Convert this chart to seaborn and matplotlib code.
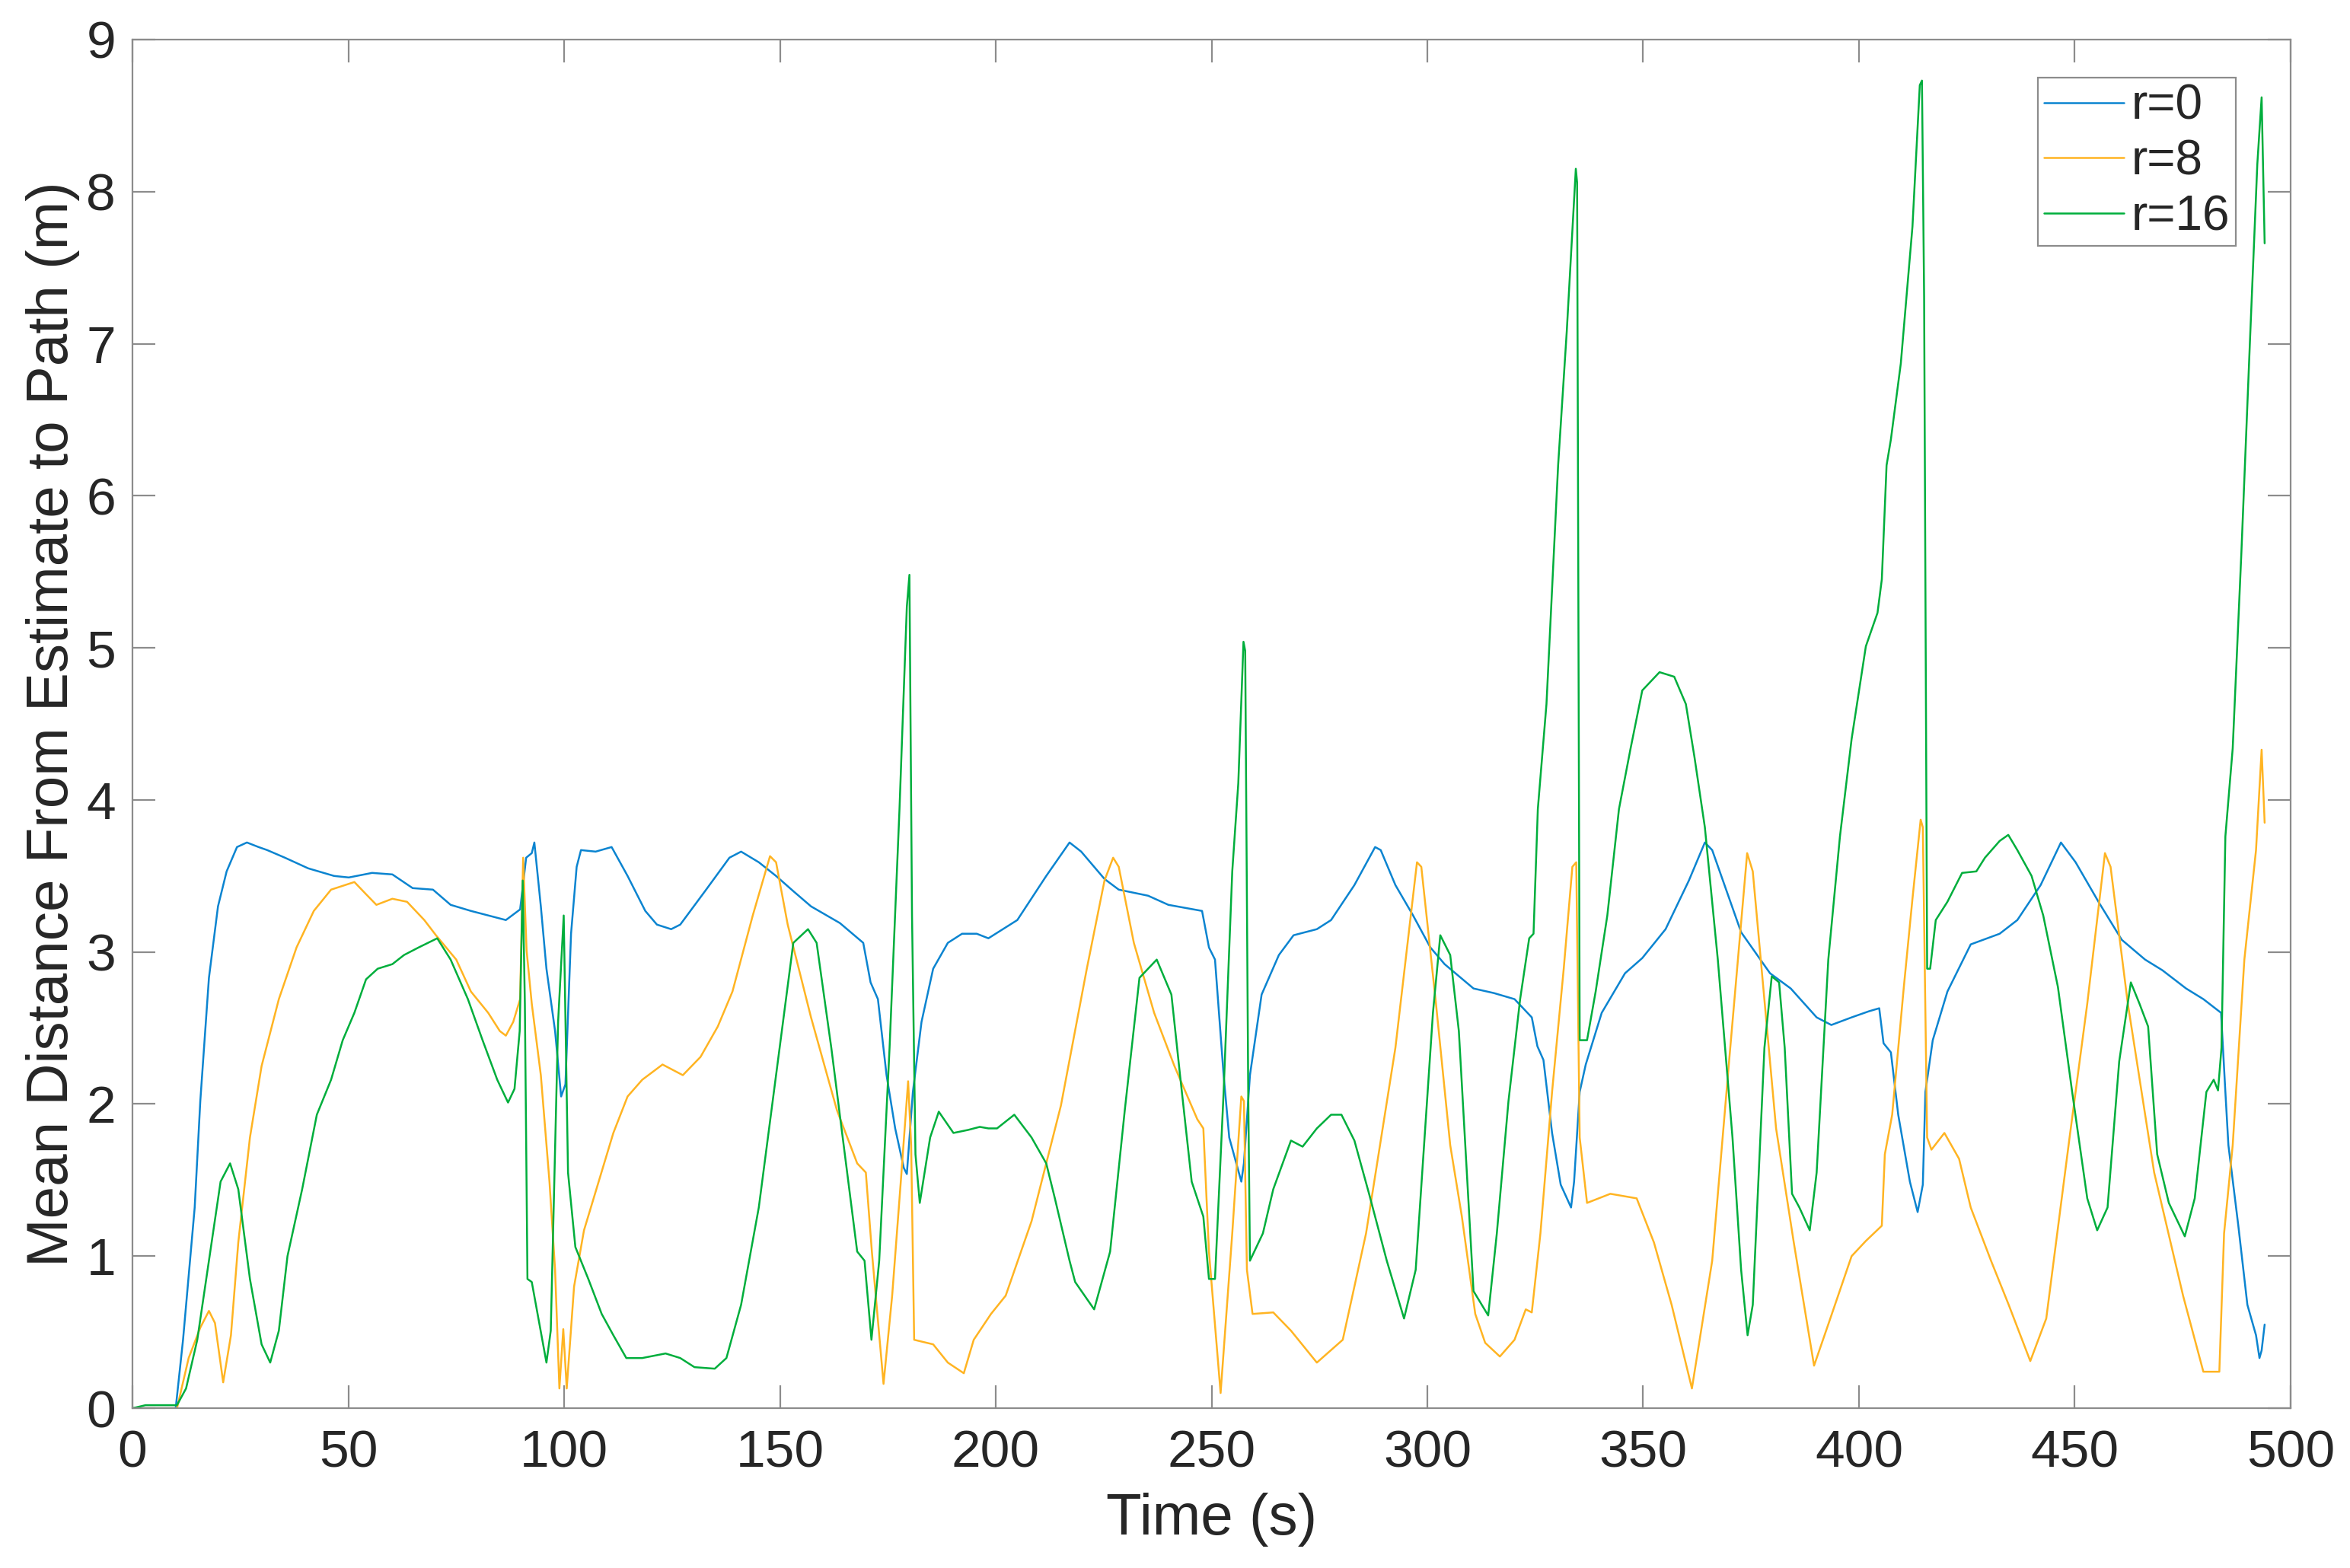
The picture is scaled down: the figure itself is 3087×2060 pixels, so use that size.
import matplotlib
matplotlib.use("Agg")
import matplotlib.pyplot as plt
import seaborn as sns

# --- values (time in s, distance in m) ---
r0_time = [
    0, 10.0, 11.7, 14.4, 15.7, 17.7, 19.8, 21.8, 24.2, 26.5,
    29.2, 31.2, 35.3, 40.7, 46.7, 50.1, 55.5, 60.2, 64.9, 69.6,
    73.7, 78.4, 83.8, 86.5, 89.8, 91.2, 92.5, 93.1, 94.6, 95.9,
    97.9, 99.3, 100.3, 101.6, 102.9, 103.9, 107.3, 111.0, 114.7, 118.8,
    121.5, 124.8, 126.9, 132.9, 138.3, 141.0, 145.1, 149.1, 153.1, 157.2,
    163.9, 169.3, 171.0, 172.7, 174.7, 176.7, 178.7, 179.4, 180.8, 182.8,
    185.5, 188.9, 192.2, 195.6, 198.3, 203.3, 205.0, 211.7, 217.1, 219.8,
    225.2, 228.5, 235.3, 240.0, 247.8, 249.4, 250.8, 252.8, 254.1, 256.9,
    257.5, 258.9, 261.6, 265.6, 269.0, 274.4, 277.7, 283.1, 287.9, 289.2,
    292.6, 296.7, 300.7, 304.0, 310.7, 315.4, 320.2, 324.2, 325.5, 326.9,
    328.9, 330.9, 333.3, 334.0, 335.3, 336.7, 340.4, 345.8, 349.8, 355.2,
    360.6, 364.3, 366.0, 372.7, 379.4, 384.2, 390.2, 393.6, 398.3, 402.3,
    404.7, 405.7, 407.4, 409.1, 411.8, 413.6, 414.8, 415.4, 417.1, 420.5,
    425.9, 432.6, 436.7, 442.1, 446.8, 450.2, 455.5, 460.9, 466.3, 470.3,
    475.8, 479.8, 483.9, 484.9, 485.6, 487.9, 490.0, 492.0, 492.8, 493.3,
    494.0,
]
r0_dist = [
    0, 0, 0.45, 1.32, 2.02, 2.83, 3.30, 3.53, 3.69, 3.72,
    3.69, 3.67, 3.62, 3.55, 3.50, 3.49, 3.52, 3.51, 3.42, 3.41,
    3.31, 3.27, 3.23, 3.21, 3.28, 3.62, 3.65, 3.72, 3.30, 2.89,
    2.48, 2.05, 2.13, 3.12, 3.56, 3.67, 3.66, 3.69, 3.50, 3.27,
    3.18, 3.15, 3.18, 3.41, 3.62, 3.66, 3.59, 3.50, 3.40, 3.30,
    3.19, 3.06, 2.80, 2.69, 2.19, 1.84, 1.58, 1.54, 2.08, 2.54,
    2.89, 3.06, 3.12, 3.12, 3.09, 3.18, 3.21, 3.50, 3.72, 3.66,
    3.48, 3.41, 3.37, 3.31, 3.27, 3.03, 2.95, 2.19, 1.78, 1.49,
    1.61, 2.19, 2.72, 2.98, 3.11, 3.15, 3.21, 3.44, 3.69, 3.67,
    3.44, 3.24, 3.03, 2.92, 2.76, 2.73, 2.69, 2.57, 2.38, 2.29,
    1.81, 1.47, 1.32, 1.49, 2.08, 2.26, 2.60, 2.86, 2.96, 3.15,
    3.47, 3.72, 3.67, 3.13, 2.86, 2.76, 2.57, 2.52, 2.57, 2.61,
    2.63, 2.40, 2.34, 1.93, 1.49, 1.29, 1.47, 2.08, 2.42, 2.74,
    3.05, 3.12, 3.21, 3.44, 3.72, 3.59, 3.33, 3.08, 2.95, 2.88,
    2.76, 2.69, 2.60, 2.08, 1.73, 1.20, 0.68, 0.48, 0.33, 0.38,
    0.55,
]

r8_time = [
    0, 10.3, 13.0, 15.7, 17.7, 19.1, 21.0, 22.8, 24.5, 27.2,
    29.9, 33.9, 38.0, 42.0, 46.0, 51.4, 54.1, 56.5, 60.2, 63.6,
    67.6, 70.3, 75.0, 78.4, 82.4, 85.1, 86.5, 88.2, 89.8, 90.5,
    91.3, 92.5, 94.6, 96.6, 97.9, 98.9, 99.8, 100.6, 102.3, 104.6,
    108.0, 111.4, 114.7, 118.1, 122.8, 127.5, 131.6, 135.6, 139.0, 143.7,
    147.7, 149.1, 151.8, 157.2, 163.2, 167.9, 169.9, 171.3, 174.0, 176.0,
    178.0, 179.7, 180.4, 181.1, 185.5, 188.9, 192.6, 194.9, 198.9, 202.3,
    208.3, 215.1, 221.1, 225.2, 227.2, 228.5, 232.0, 236.7, 241.4, 246.7,
    248.1, 249.4, 252.1, 254.8, 256.9, 257.5, 258.2, 259.5, 264.3, 268.4,
    274.4, 280.4, 285.8, 292.6, 297.6, 298.6, 302.0, 305.3, 308.0, 311.1,
    313.4, 316.8, 320.2, 322.8, 324.2, 326.2, 328.9, 331.6, 333.6, 334.5,
    335.3, 337.0, 342.4, 348.5, 352.5, 356.6, 361.3, 366.0, 370.0, 374.1,
    375.4, 380.8, 384.9, 389.6, 393.0, 398.3, 401.6, 405.3, 406.0, 407.7,
    410.4, 412.4, 414.3, 414.8, 415.8, 416.8, 419.8, 423.2, 425.9, 430.6,
    434.7, 439.7, 443.4, 448.8, 452.9, 457.0, 458.3, 462.3, 468.4, 475.1,
    479.8, 483.5, 484.6, 486.6, 489.3, 492.0, 493.3, 494.0,
]
r8_dist = [
    0, 0, 0.33, 0.53, 0.64, 0.56, 0.17, 0.48, 1.09, 1.78,
    2.25, 2.69, 3.03, 3.27, 3.41, 3.46, 3.38, 3.31, 3.35, 3.33,
    3.21, 3.11, 2.95, 2.74, 2.60, 2.48, 2.45, 2.54, 2.69, 3.62,
    3.01, 2.66, 2.19, 1.49, 0.91, 0.13, 0.52, 0.13, 0.80, 1.17,
    1.49, 1.81, 2.05, 2.16, 2.26, 2.19, 2.31, 2.51, 2.74, 3.24,
    3.63, 3.59, 3.18, 2.57, 1.96, 1.61, 1.55, 1.03, 0.16, 0.74,
    1.49, 2.15, 1.73, 0.45, 0.42, 0.30, 0.23, 0.45, 0.62, 0.74,
    1.23, 1.99, 2.89, 3.47, 3.62, 3.56, 3.06, 2.60, 2.25, 1.90,
    1.84, 1.03, 0.10, 1.15, 2.05, 2.02, 0.91, 0.62, 0.63, 0.51,
    0.30, 0.45, 1.15, 2.37, 3.59, 3.56, 2.66, 1.73, 1.26, 0.62,
    0.43, 0.34, 0.45, 0.65, 0.63, 1.15, 2.08, 2.89, 3.56, 3.59,
    1.78, 1.35, 1.41, 1.38, 1.09, 0.68, 0.13, 0.97, 2.31, 3.65,
    3.53, 1.84, 1.09, 0.28, 0.56, 1.00, 1.10, 1.20, 1.67, 1.93,
    2.77, 3.35, 3.87, 3.82, 1.78, 1.70, 1.81, 1.64, 1.32, 0.97,
    0.68, 0.31, 0.59, 1.78, 2.66, 3.65, 3.56, 2.66, 1.55, 0.74,
    0.24, 0.24, 1.15, 1.73, 2.95, 3.67, 4.33, 3.85,
]

r16_time = [
    0, 3.0, 10.3, 12.4, 15.0, 17.7, 20.4, 22.6, 24.5, 27.2,
    29.9, 31.9, 33.9, 35.9, 39.3, 42.7, 46.0, 48.7, 51.4, 54.1,
    56.8, 60.2, 62.9, 66.3, 70.6, 73.7, 77.7, 81.1, 84.5, 87.0,
    88.5, 89.7, 90.4, 90.9, 91.5, 92.5, 95.9, 96.9, 98.6, 99.9,
    100.9, 102.6, 105.6, 108.7, 111.4, 114.4, 118.1, 123.5, 126.9, 130.2,
    134.9, 137.6, 141.0, 145.1, 149.1, 153.1, 156.5, 158.5, 161.9, 165.3,
    167.9, 169.6, 171.2, 173.0, 175.4, 177.7, 179.4, 180.0, 180.6, 181.4,
    182.4, 184.8, 186.8, 190.2, 193.6, 196.3, 198.3, 200.3, 204.3, 208.3,
    211.7, 213.7, 217.1, 218.4, 222.8, 226.5, 229.9, 233.3, 237.3, 240.7,
    242.7, 245.4, 248.1, 249.4, 250.8, 252.8, 254.8, 256.2, 257.4, 257.8,
    258.5, 258.9, 261.9, 264.3, 268.4, 271.1, 274.4, 277.7, 280.1, 283.1,
    286.5, 290.6, 294.6, 297.3, 301.3, 303.0, 305.3, 307.3, 310.7, 314.1,
    316.1, 318.8, 321.5, 323.6, 324.6, 325.6, 327.6, 330.3, 332.3, 334.4,
    334.7, 335.3, 337.0, 339.0, 341.7, 344.4, 347.1, 349.8, 353.8, 357.2,
    359.9, 361.9, 364.3, 367.3, 370.7, 372.7, 374.2, 375.4, 378.1, 379.8,
    381.5, 382.8, 384.5, 386.2, 388.6, 390.2, 392.9, 395.6, 398.3, 401.6,
    404.3, 405.3, 406.4, 407.4, 409.7, 412.4, 414.1, 414.6, 415.1, 415.8,
    416.5, 417.8, 420.5, 423.9, 427.2, 429.2, 432.6, 434.6, 436.7, 440.0,
    442.7, 446.1, 449.4, 452.9, 455.2, 457.6, 460.3, 463.0, 465.0, 467.0,
    469.1, 471.8, 475.5, 477.8, 480.5, 482.2, 483.2, 484.0, 484.9, 486.6,
    488.6, 490.6, 492.3, 493.3, 494.0,
]
r16_dist = [
    0, 0.02, 0.02, 0.13, 0.45, 0.97, 1.49, 1.61, 1.44, 0.85,
    0.42, 0.30, 0.51, 1.00, 1.44, 1.93, 2.16, 2.42, 2.60, 2.82,
    2.89, 2.92, 2.98, 3.03, 3.09, 2.95, 2.69, 2.42, 2.16, 2.01,
    2.10, 2.48, 3.47, 2.66, 0.85, 0.83, 0.30, 0.51, 2.54, 3.24,
    1.55, 1.06, 0.85, 0.62, 0.48, 0.33, 0.33, 0.36, 0.33, 0.27,
    0.26, 0.33, 0.68, 1.32, 2.19, 3.06, 3.15, 3.06, 2.37, 1.61,
    1.03, 0.97, 0.45, 0.97, 2.37, 3.94, 5.27, 5.48, 3.24, 1.67,
    1.35, 1.78, 1.95, 1.81, 1.83, 1.85, 1.84, 1.84, 1.93, 1.78,
    1.61, 1.38, 0.97, 0.83, 0.65, 1.03, 1.96, 2.83, 2.95, 2.72,
    2.19, 1.49, 1.26, 0.85, 0.85, 2.08, 3.53, 4.11, 5.04, 4.98,
    2.08, 0.97, 1.15, 1.44, 1.76, 1.72, 1.84, 1.93, 1.93, 1.76,
    1.41, 0.97, 0.59, 0.91, 2.60, 3.11, 2.98, 2.48, 0.77, 0.61,
    1.15, 2.02, 2.69, 3.09, 3.12, 3.94, 4.63, 6.20, 7.08, 8.15,
    8.06, 2.42, 2.42, 2.74, 3.24, 3.94, 4.34, 4.72, 4.84, 4.81,
    4.63, 4.28, 3.82, 2.95, 1.78, 0.91, 0.48, 0.68, 2.37, 2.84,
    2.80, 2.37, 1.41, 1.32, 1.17, 1.55, 2.95, 3.76, 4.40, 5.01,
    5.23, 5.45, 6.20, 6.37, 6.87, 7.77, 8.70, 8.73, 7.31, 2.89,
    2.89, 3.21, 3.33, 3.52, 3.53, 3.62, 3.73, 3.77, 3.67, 3.50,
    3.24, 2.77, 2.08, 1.38, 1.17, 1.32, 2.28, 2.80, 2.66, 2.51,
    1.67, 1.35, 1.13, 1.38, 2.08, 2.16, 2.09, 2.37, 3.76, 4.34,
    5.62, 7.02, 8.18, 8.62, 7.66,
]

series_labels = ["r=0", "r=8", "r=16"]
series_colors = ["#0B84D0", "#FFB422", "#00AE3C"]
x_ticks = list(range(0, 501, 50))
y_ticks = list(range(0, 10))

assert len(r0_time) == len(r0_dist)
assert len(r8_time) == len(r8_dist)
assert len(r16_time) == len(r16_dist)

# --- style ---
sns.set_theme(style="white")
plt.rcParams["font.family"] = ["Liberation Sans", "DejaVu Sans"]
axis_grey = "#8C8C8C"
text_col = "#262626"

fig = plt.figure(figsize=(15.435, 10.3), dpi=200)
ax = fig.add_axes([0.0564, 0.1019, 0.9183, 0.8729])

for t, d, lab, col in zip([r0_time, r8_time, r16_time],
                          [r0_dist, r8_dist, r16_dist],
                          series_labels, series_colors):
    sns.lineplot(x=t, y=d, ax=ax, color=col, linewidth=0.9, label=lab,
                 estimator=None, sort=False)

ax.set_xlim(0, 500)
ax.set_ylim(0, 9)
ax.set_xticks(x_ticks)
ax.set_yticks(y_ticks)

for s in ax.spines.values():
    s.set_visible(True)
    s.set_color(axis_grey)
    s.set_linewidth(0.8)

ax.tick_params(axis="both", direction="in", length=10.8, width=0.8,
               color=axis_grey, labelcolor=text_col, labelsize=25,
               top=True, right=True, bottom=True, left=True)
ax.tick_params(axis="x", pad=10)
ax.tick_params(axis="y", pad=8)

ax.set_xlabel("Time (s)", fontsize=27.5, color=text_col, labelpad=7)
ax.set_ylabel("Mean Distance From Estimate to Path (m)", fontsize=27.5,
              color=text_col, labelpad=3)

leg = ax.legend(loc="upper right", bbox_to_anchor=(0.9746, 0.972),
                borderaxespad=0, fontsize=23, frameon=True, fancybox=False,
                framealpha=1, edgecolor=axis_grey, handlelength=1.65,
                handletextpad=0.15, labelspacing=0.2, borderpad=0.12)
leg.get_frame().set_linewidth(0.8)
for txt in leg.get_texts():
    txt.set_color(text_col)

fig.savefig("out.png", dpi=200)
